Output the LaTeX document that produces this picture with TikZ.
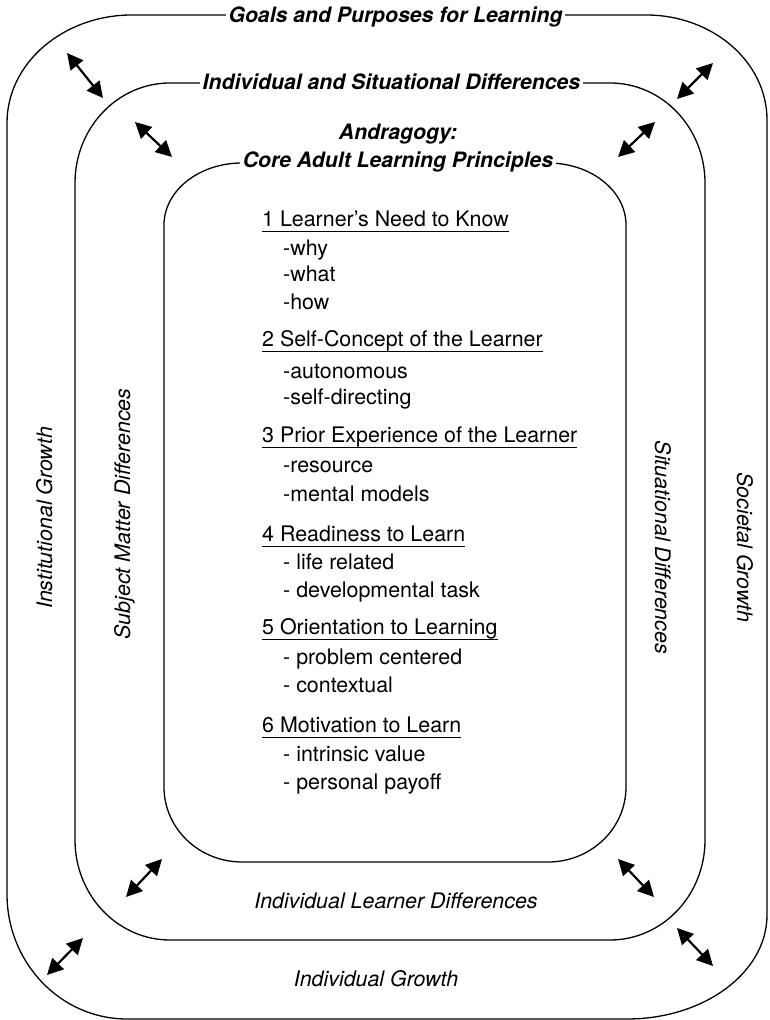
\documentclass[tikz,border=0pt]{standalone}
\usepackage{fontspec}
\setmainfont{TeX Gyre Heros}
\usepackage{tikz}
\usetikzlibrary{arrows.meta}

\newsavebox\headbox
\newcommand\ulhead[1]{\sbox\headbox{#1}\rlap{\rule[-5pt]{\wd\headbox}{1.4pt}}\usebox\headbox}

\begin{document}
\begin{tikzpicture}[
        x=1pt, y=1pt,
        font=\fontsize{21.4}{25}\selectfont,
        band/.style={line width=1.3pt},
        ringtag/.style={fill=white, inner xsep=3pt, inner ysep=1pt, anchor=base, font=\fontsize{21.2}{25}\selectfont\bfseries\itshape},
        sidetag/.style={inner sep=0pt, anchor=base, font=\fontsize{21.4}{25}\selectfont\itshape},
        head/.style={inner sep=0pt, anchor=base west},
        item/.style={inner sep=0pt, anchor=base west},
        link/.style={line width=2.2pt, {Triangle[length=16pt,width=16pt]}-{Triangle[length=16pt,width=16pt]}}
    ]
    \useasboundingbox (0,0) rectangle (769,1020);

    % three rings, outside in
    \draw[band] (132,1005) -- (646,1005)
        arc[start angle=90, end angle=0, x radius=121, y radius=105] -- (767,105)
        arc[start angle=0, end angle=-90, x radius=140, y radius=104] -- (127,1)
        arc[start angle=270, end angle=180, x radius=120, y radius=125] -- (7,897)
        arc[start angle=180, end angle=90, x radius=125, y radius=108] -- cycle;
    \draw[band] (170,937) -- (610,937)
        arc[start angle=90, end angle=0, x radius=95, y radius=100] -- (705,180)
        arc[start angle=0, end angle=-90, x radius=95, y radius=100] -- (170,80)
        arc[start angle=270, end angle=180, x radius=95, y radius=100] -- (75,837)
        arc[start angle=180, end angle=90, x radius=95, y radius=100] -- cycle;
    \draw[band] (242,857) -- (548,857)
        arc[start angle=90, end angle=0, x radius=78, y radius=62] -- (626,233)
        arc[start angle=0, end angle=-90, x radius=78, y radius=75] -- (242,158)
        arc[start angle=270, end angle=180, x radius=78, y radius=75] -- (164,795)
        arc[start angle=180, end angle=90, x radius=78, y radius=62] -- cycle;

    % titles sitting on the rings
    \node[ringtag] (goals) at (395.5,997) {Goals and Purposes for Learning};
    \node[ringtag] (indsit) at (391.5,930) {Individual and Situational Differences};
    \node[ringtag, fill=none] (andra) at (398,880) {Andragogy:};
    \node[ringtag] (core) at (398,852) {Core Adult Learning Principles};

    % side and bottom labels
    \node[sidetag, rotate=90] (instgrowth) at (52,502) {Institutional Growth};
    \node[sidetag, rotate=90] (subjdiff) at (130,506) {Subject Matter Differences};
    \node[sidetag, rotate=-90] (situdiff) at (655,472.5) {Situational Differences};
    \node[sidetag, rotate=-90] (socgrowth) at (737,472.5) {Societal Growth};
    \node[sidetag] (learnerdiff) at (396,111) {Individual Learner Differences};
    \node[sidetag] (indgrowth) at (376,33) {Individual Growth};

    % the six principles
    \node[head] (p1) at (262,793) {\ulhead{1 Learner’s Need to Know}};
    \node[item] (p1a) at (283,764) {-why};
    \node[item] (p1b) at (283,738) {-what};
    \node[item] (p1c) at (283,710) {-how};
    \node[head] (p2) at (262,673) {\ulhead{2 Self-Concept of the Learner}};
    \node[item] (p2a) at (283,641) {-autonomous};
    \node[item] (p2b) at (283,615) {-self-directing};
    \node[head] (p3) at (262,577) {\ulhead{3 Prior Experience of the Learner}};
    \node[item] (p3a) at (283,547) {-resource};
    \node[item] (p3b) at (283,518) {-mental models};
    \node[head] (p4) at (262,478) {\ulhead{4 Readiness to Learn}};
    \node[item] (p4a) at (283,450) {- life related};
    \node[item] (p4b) at (283,422) {- developmental task};
    \node[head] (p5) at (262,385) {\ulhead{5 Orientation to Learning}};
    \node[item] (p5a) at (283,355) {- problem centered};
    \node[item] (p5b) at (283,327) {- contextual};
    \node[head] (p6) at (262,287) {\ulhead{6 Motivation to Learn}};
    \node[item] (p6a) at (283,258) {- intrinsic value};
    \node[item] (p6b) at (283,230) {- personal payoff};

    % two-way arrows between rings
    \coordinate (a1s) at (67,967);   \coordinate (a1e) at (103,922);
    \coordinate (a2s) at (135,898);  \coordinate (a2e) at (172,863);
    \coordinate (a3s) at (713,957);  \coordinate (a3e) at (677,921);
    \coordinate (a4s) at (655,898);  \coordinate (a4e) at (618,863);
    \coordinate (a5s) at (162,161);  \coordinate (a5e) at (126,123);
    \coordinate (a6s) at (83,82);    \coordinate (a6e) at (47,45);
    \coordinate (a7s) at (618,161);  \coordinate (a7e) at (654,123);
    \coordinate (a8s) at (677,92);   \coordinate (a8e) at (713,54);
    \draw[link] (a1s) -- (a1e);
    \draw[link] (a2s) -- (a2e);
    \draw[link] (a3s) -- (a3e);
    \draw[link] (a4s) -- (a4e);
    \draw[link] (a5s) -- (a5e);
    \draw[link] (a6s) -- (a6e);
    \draw[link] (a7s) -- (a7e);
    \draw[link] (a8s) -- (a8e);
\end{tikzpicture}
\end{document}
